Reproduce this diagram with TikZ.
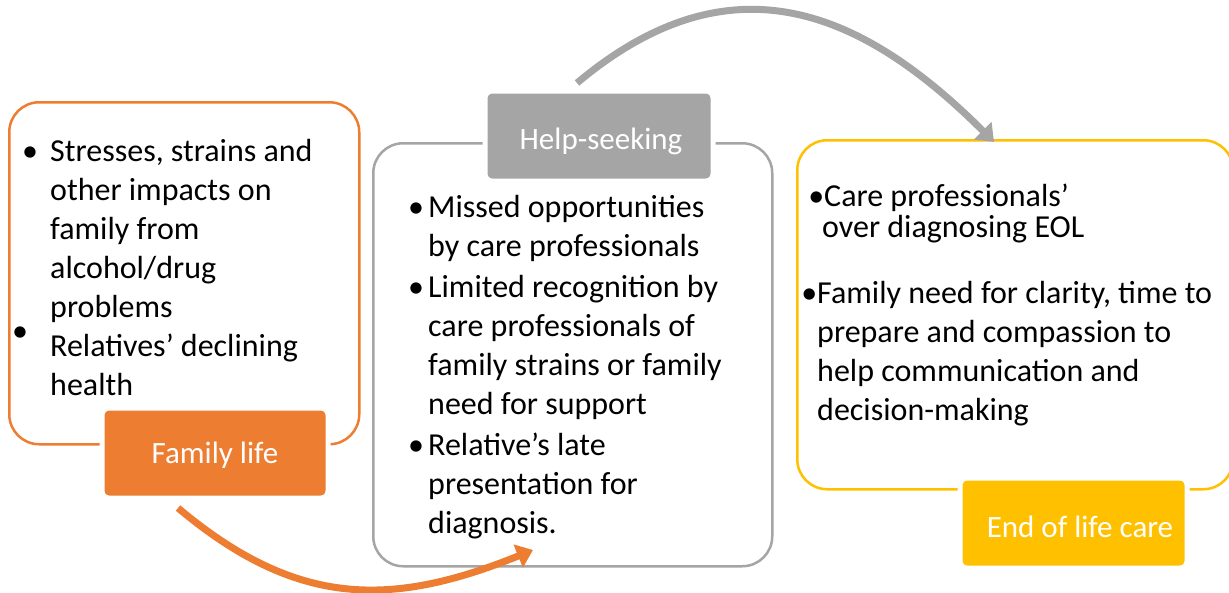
\documentclass[tikz,border=0pt]{standalone}
\usepackage{fontspec}
\setmainfont{Carlito}
\usetikzlibrary{arrows.meta}
\definecolor{famorange}{HTML}{ED7D31}
\definecolor{helpgray}{HTML}{A5A5A5}
\definecolor{eolyellow}{HTML}{FFC000}

\begin{document}
\begin{tikzpicture}[x=1pt, y=-1pt,
    panel/.style={draw=#1, line width=2.5pt, rounded corners=30pt,
      fill=white, anchor=north west, inner sep=0},
    tag/.style={fill=#1, draw=white, line width=5pt, rounded corners=7pt,
      anchor=north west, inner sep=0},
    body/.style={font=\fontsize{32}{39}\selectfont, align=left,
      anchor=base west, inner sep=0},
    tagtext/.style={font=\fontsize{31}{39}\selectfont, text=white,
      anchor=base, inner sep=0},
    dot/.style={font=\fontsize{32}{39}\selectfont, anchor=base, inner sep=0},
    flow/.style={draw=#1, line width=7pt,
      -{Triangle[length=16pt,width=24pt]}}]
  \useasboundingbox (0,0) rectangle (1229,592);

  % panels
  \node[panel=famorange, minimum width=350, minimum height=342] (famPanel) at (8,101) {};
  \node[panel=helpgray, minimum width=399, minimum height=423] (helpPanel) at (372,142) {};
  \node[panel=eolyellow, minimum width=436, minimum height=349] (eolPanel) at (796,139) {};

  % tags
  \node[tag=famorange, minimum width=226, minimum height=90] (famTag) at (99.5,405.5) {};
  \node[tag=helpgray, minimum width=228, minimum height=90] (helpTag) at (482.5,88.5) {};
  \node[tag=eolyellow, minimum width=227, minimum height=90] (eolTag) at (957.5,475.5) {};
  \node[tagtext] (famTagText) at (215,463) {Family life};
  \node[tagtext] (helpTagText) at (601,149) {Help-seeking};
  \node[tagtext] (eolTagText) at (1080,537) {End of life care};

  % family life (base = last line)
  \node[dot] (famDotA) at (30,161) {\textbullet};
  \node[dot] (famDotB) at (20,341) {\textbullet};
  \node[body] (famText) at (50,395) {Stresses, strains and\\other impacts on\\
    family from\\alcohol/drug\\problems\\Relatives’ declining\\health};

  % help-seeking
  \node[dot] (helpDotA) at (416,217) {\textbullet};
  \node[dot] (helpDotB) at (416,297) {\textbullet};
  \node[dot] (helpDotC) at (416,455) {\textbullet};
  \node[body] (helpText) at (428,533) {Missed opportunities\\by care professionals\\[2pt]
    Limited recognition by\\care professionals of\\family strains or family\\
    need for support\\[2pt]Relative’s late\\presentation for\\diagnosis.};

  % end of life care
  \node[body] (eolTextA) at (824,237) {\llap{\textbullet}Care professionals’\\[-8pt]
    \hspace*{-2pt}over diagnosing EOL};
  \node[body] (eolTextB) at (817,420) {\llap{\textbullet}Family need for clarity, time to\\
    prepare and compassion to\\help communication and\\decision-making};

  % arrows
  \coordinate (famOut) at (178,508);
  \coordinate (helpIn) at (533,550);
  \coordinate (helpOut) at (577,83);
  \coordinate (eolIn) at (994,142);
  \draw[flow=famorange] (famOut) .. controls (296,607) and (390,608) .. (helpIn);
  \draw[flow=helpgray] (helpOut) .. controls (726,-42) and (856,4) .. (eolIn);
\end{tikzpicture}
\end{document}
